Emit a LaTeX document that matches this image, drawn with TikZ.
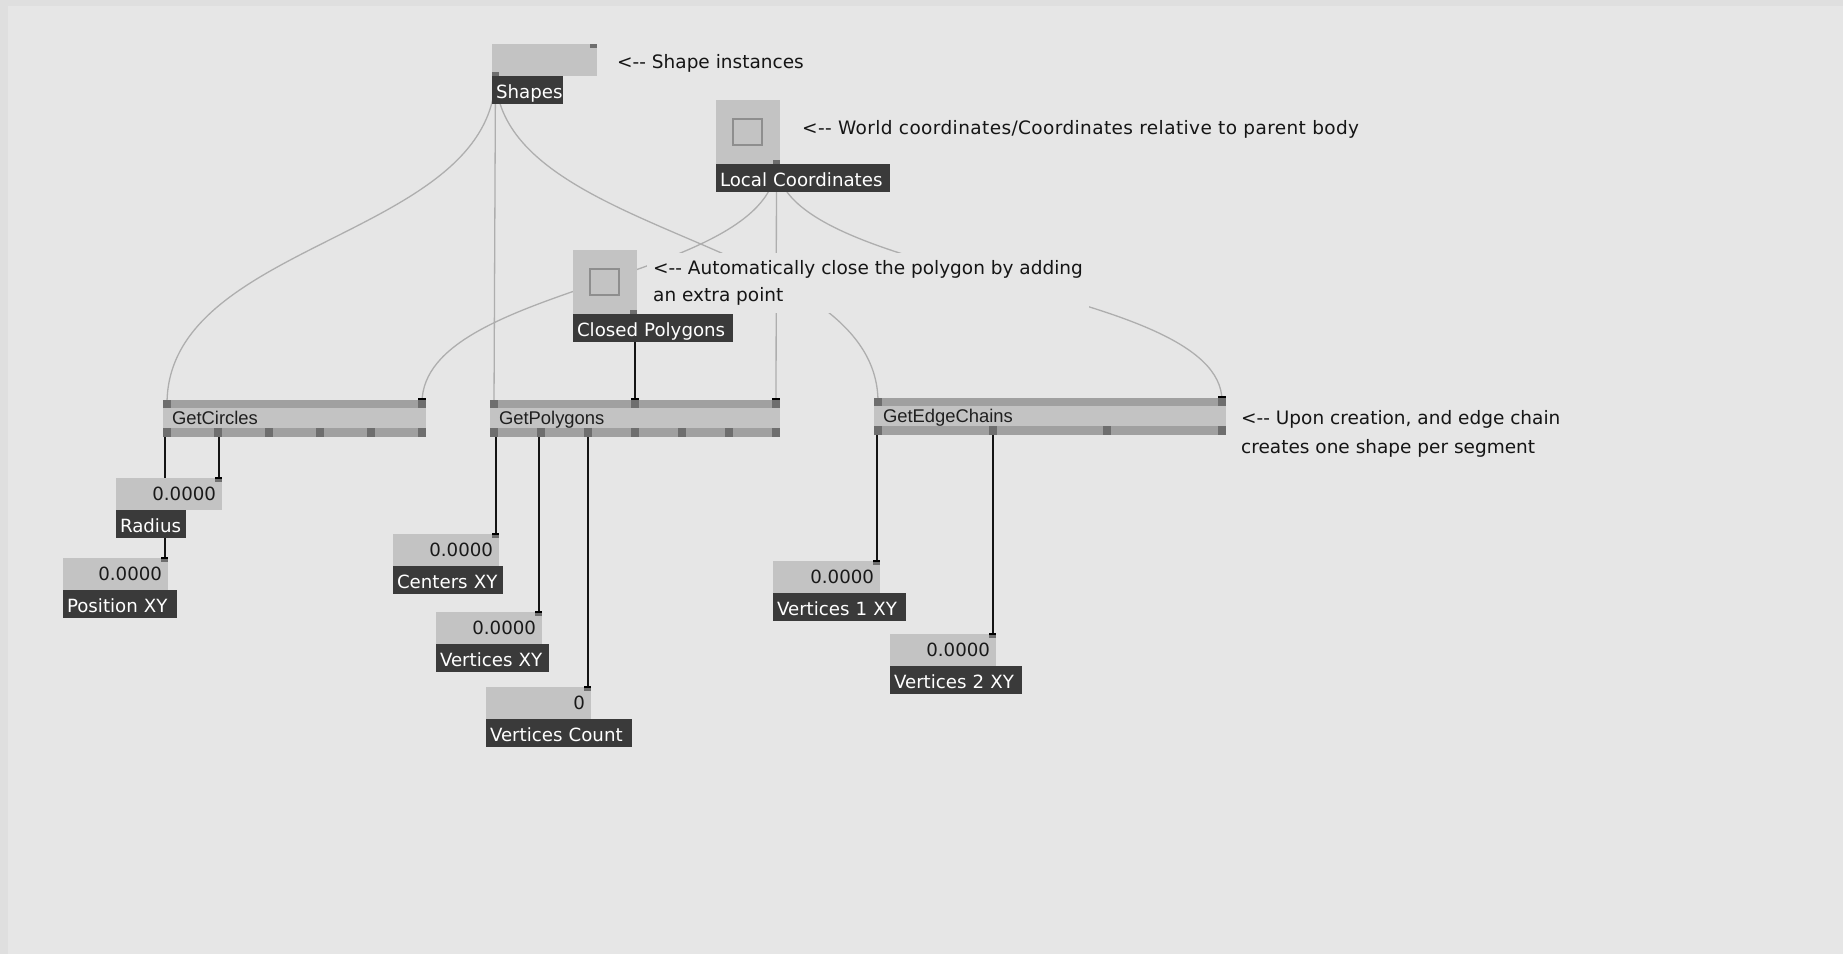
\documentclass[tikz,border=0pt]{standalone}
\usepackage{fontspec}
\newfontfamily\pixfont{DejaVu Sans}
\newfontfamily\titlefont{Liberation Sans}
\usetikzlibrary{calc}

\pgfdeclarelayer{back}
\pgfdeclarelayer{wires}
\pgfsetlayers{back,wires,main}

\definecolor{canvas}{HTML}{E6E6E6}
\definecolor{canvasedge}{HTML}{DFDFDF}
\definecolor{boxfill}{HTML}{C3C3C3}
\definecolor{barfill}{HTML}{A0A0A0}
\definecolor{pinfill}{HTML}{6E6E6E}
\definecolor{labelfill}{HTML}{3A3A3A}
\definecolor{spreadwire}{HTML}{AEAEAE}
\definecolor{toggleline}{HTML}{8E8E8E}
\definecolor{notecolor}{HTML}{151515}

\tikzset{
  pinbase/.style={draw=none, fill=pinfill, inner sep=0pt, outer sep=0pt},
  iopin/.style={pinbase, minimum width=7pt, minimum height=4pt},
  nodepin/.style={pinbase, minimum width=8pt, minimum height=8pt},
  capped/.style={path picture={\fill[black] (path picture bounding box.north west) rectangle ([yshift=-2pt]path picture bounding box.north east);}},
  valuebox/.style={anchor=north west, draw=none, fill=boxfill, inner xsep=6pt, inner ysep=0pt, outer sep=0pt,
    minimum height=32pt, align=right, text height=13pt, text depth=1pt, text=black!90,
    font=\pixfont\fontsize{18.2}{20}\selectfont},
  labelbox/.style={anchor=north west, draw=none, fill=labelfill, text=white, inner xsep=4pt, inner ysep=0pt, outer sep=0pt,
    minimum height=28pt, align=left, text height=17pt, text depth=0pt,
    font=\pixfont\fontsize{18.2}{20}\selectfont},
  togglebox/.style={anchor=north west, draw=none, fill=boxfill, inner sep=0pt, outer sep=0pt,
    minimum width=64pt, minimum height=64pt,
    path picture={\draw[toggleline, line width=2pt]
      ([xshift=17pt,yshift=-19pt]path picture bounding box.north west) rectangle
      ([xshift=-18pt,yshift=19pt]path picture bounding box.south east);}},
  patchbody/.style={anchor=north west, draw=none, fill=boxfill, inner xsep=9pt, inner ysep=0pt, outer sep=0pt,
    minimum height=37pt, align=left, text height=13pt, text depth=2pt, text=black!88,
    font=\titlefont\fontsize{18.4}{22}\selectfont,
    path picture={
      \fill[barfill] (path picture bounding box.north west) rectangle ([yshift=-8pt]path picture bounding box.north east);
      \fill[barfill] ([yshift=9pt]path picture bounding box.south west) rectangle (path picture bounding box.south east);}},
  notetext/.style={draw=none, fill=canvas, inner xsep=6pt, inner ysep=7pt, align=left, text=notecolor,
    font=\pixfont\fontsize{18.5}{28}\selectfont},
  spreadlink/.style={draw=spreadwire, line width=1.3pt},
  valuelink/.style={draw=black!92, line width=2pt}
}

% value IO box: name, x, y, box width, label width, value, label
\newcommand\ioValue[7]{%
  \pgfmathsetmacro\vtw{#4-12}%
  \pgfmathsetmacro\ltw{#5-8}%
  \node[valuebox, minimum width=#4pt, text width=\vtw pt] (#1) at (#2,#3) {#6};
  \node[labelbox, minimum width=#5pt, text width=\ltw pt] (#1-label) at (#1.south west) {#7};
  \node[iopin, capped, anchor=north east, minimum height=5.5pt] (#1-in) at ([yshift=1.5pt]#1.north east) {};
}

% toggle IO box: name, x, y, label width, label
\newcommand\ioToggle[5]{%
  \pgfmathsetmacro\ltw{#4-8}%
  \node[togglebox] (#1) at (#2,#3) {};
  \node[labelbox, minimum width=#4pt, text width=\ltw pt] (#1-label) at (#1.south west) {#5};
  \node[iopin, anchor=south east] (#1-out) at (#1.south east) {};
}

% patch node: name, x, y, width, title
\newcommand\patchNode[5]{%
  \pgfmathsetmacro\ntw{#4-18}%
  \node[patchbody, minimum width=#4pt, text width=\ntw pt] (#1) at (#2,#3) {#5};
}

% bezier link leaving and entering vertically
\newcommand\patchWire[3]{%
  \draw[#1] let \p1=(#2.center), \p2=(#3.center) in
    (\p1) .. controls (\x1,{0.5*\y1+0.5*\y2}) and (\x2,{0.5*\y1+0.5*\y2}) .. (\p2);
}
% straight value link, dropped vertically onto the input pin
\newcommand\valueWire[2]{%
  \draw[valuelink] (#2.center |- #1.center) -- (#2.center);
}

\begin{document}
\begin{tikzpicture}[x=1pt,y=-1pt]

\begin{pgfonlayer}{back}
  \fill[canvasedge] (0,0) rectangle (1843,954);
  \fill[canvas] (8,6) rectangle (1843,954);
\end{pgfonlayer}
\useasboundingbox (0,0) rectangle (1843,954);

% ---- source boxes
\node[valuebox, minimum width=105pt, text width=93pt] (shapes) at (492,44) {};
\node[labelbox, minimum width=71pt, text width=63pt] (shapes-label) at (shapes.south west) {Shapes};
\node[iopin, anchor=north east] (shapes-in) at (shapes.north east) {};
\node[iopin, anchor=south west] (shapes-out) at (shapes.south west) {};

\ioToggle{local}{716}{100}{174}{Local Coordinates}
\ioToggle{closed}{573}{250}{160}{Closed Polygons}

% ---- comments
\node[notetext, anchor=base west] (note-shapes) at (611,68) {<-{}- Shape instances};
\node[notetext, anchor=base west, font=\pixfont\fontsize{18.5}{28}\selectfont\addfontfeatures{LetterSpace=2.1}] (note-world) at (796,134.5)
  {<-{}- World coordinates/Coordinates relative to parent body};
\node[notetext, anchor=north west, font=\pixfont\fontsize{18.5}{27.5}\selectfont] (note-close) at (647,253)
  {<-{}- Automatically close the polygon by adding\\an extra point};
\node[notetext, anchor=north west, font=\pixfont\fontsize{18.5}{29}\selectfont] (note-edge) at (1235,403)
  {<-{}- Upon creation, and edge chain\\creates one shape per segment};

% ---- patch nodes
\patchNode{gc}{163}{400}{263}{GetCircles}
\node[nodepin, anchor=north west] (gc-in1) at (163,400) {};
\node[nodepin, capped, anchor=north west, minimum height=10pt] (gc-in2) at (418,398) {};
\foreach \i/\px in {1/163,2/214,3/265,4/316,5/367,6/418}
  \node[nodepin, anchor=south west, minimum height=9pt] (gc-out\i) at (\px,437) {};

\patchNode{gp}{490}{400}{290}{GetPolygons}
\node[nodepin, anchor=north west] (gp-in1) at (490,400) {};
\node[nodepin, capped, anchor=north west, minimum height=10pt] (gp-in2) at (631,398) {};
\node[nodepin, capped, anchor=north west, minimum height=10pt] (gp-in3) at (772,398) {};
\foreach \i/\px in {1/490,2/537,3/584,4/631,5/678,6/725,7/772}
  \node[nodepin, anchor=south west, minimum height=9pt] (gp-out\i) at (\px,437) {};

\patchNode{ge}{874}{398}{352}{GetEdgeChains}
\node[nodepin, anchor=north west] (ge-in1) at (874,398) {};
\node[nodepin, capped, anchor=north west, minimum height=10pt] (ge-in2) at (1218,396) {};
\foreach \i/\px in {1/874,2/989,3/1103,4/1218}
  \node[nodepin, anchor=south west, minimum height=9pt] (ge-out\i) at (\px,435) {};

% ---- output boxes
\ioValue{radius}{116}{478}{106}{70}{0.0000}{Radius}
\ioValue{posxy}{63}{558}{105}{114}{0.0000}{Position XY}
\ioValue{centers}{393}{534}{106}{110}{0.0000}{Centers XY}
\ioValue{verts}{436}{612}{106}{113}{0.0000}{Vertices XY}
\ioValue{vcount}{486}{687}{105}{146}{0}{Vertices Count}
\ioValue{verts1}{773}{561}{107}{133}{0.0000}{Vertices 1 XY}
\ioValue{verts2}{890}{634}{106}{132}{0.0000}{Vertices 2 XY}

% ---- links
\begin{pgfonlayer}{wires}
  \patchWire{spreadlink}{shapes-out}{gc-in1}
  \patchWire{spreadlink}{shapes-out}{gp-in1}
  \patchWire{spreadlink}{shapes-out}{ge-in1}
  \patchWire{spreadlink}{local-out}{gc-in2}
  \patchWire{spreadlink}{local-out}{gp-in3}
  \patchWire{spreadlink}{local-out}{ge-in2}
  \valueWire{closed-out}{gp-in2}
  \valueWire{gc-out1}{posxy-in}
  \valueWire{gc-out2}{radius-in}
  \valueWire{gp-out1}{centers-in}
  \valueWire{gp-out2}{verts-in}
  \valueWire{gp-out3}{vcount-in}
  \valueWire{ge-out1}{verts1-in}
  \valueWire{ge-out2}{verts2-in}
\end{pgfonlayer}

\end{tikzpicture}
\end{document}
